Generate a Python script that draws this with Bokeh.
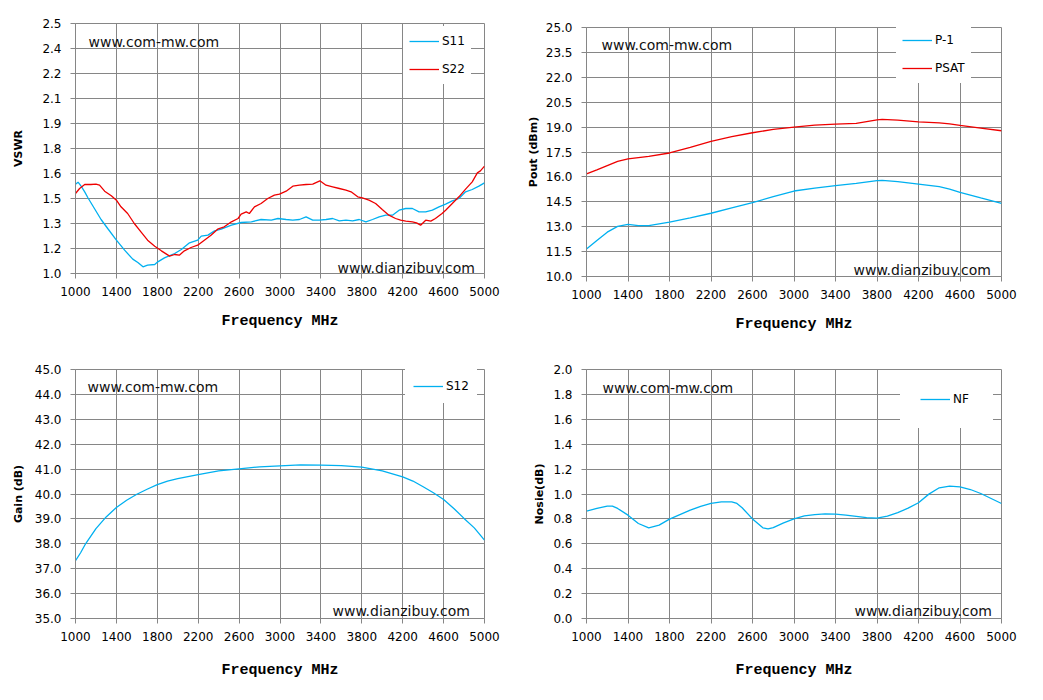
from bokeh.plotting import figure
from bokeh.models import Range1d, FixedTicker, PrintfTickFormatter, Label, Legend, LegendItem
from bokeh.layouts import column, row
from bokeh.embed import file_html
from bokeh.resources import INLINE

# ---------------- data ----------------
freq_ticks = [1000, 1400, 1800, 2200, 2600, 3000, 3400, 3800, 4200, 4600, 5000]

# VSWR chart
s11_freq = [1000, 1025, 1055, 1090, 1120, 1185, 1250, 1315, 1400, 1480, 1560, 1610, 1660,
            1705, 1775, 1805, 1870, 1970, 2035, 2115, 2195, 2230, 2295, 2360, 2425, 2525,
            2620, 2720, 2815, 2915, 2980, 3060, 3125, 3190, 3255, 3320, 3385, 3450, 3515,
            3580, 3645, 3710, 3775, 3840, 3905, 3970, 4035, 4100, 4165, 4230, 4295, 4360,
            4425, 4490, 4555, 4620, 4685, 4750, 4815, 4880, 4945, 5000]
s11_vswr = [1.536, 1.548, 1.524, 1.49, 1.456, 1.39, 1.324, 1.27, 1.20, 1.14, 1.086, 1.066, 1.04,
            1.05, 1.054, 1.07, 1.094, 1.12, 1.144, 1.184, 1.20, 1.224, 1.23, 1.256, 1.266, 1.29,
            1.306, 1.31, 1.324, 1.32, 1.33, 1.324, 1.32, 1.324, 1.34, 1.32, 1.32, 1.324, 1.33,
            1.316, 1.32, 1.316, 1.324, 1.31, 1.324, 1.34, 1.35, 1.35, 1.38, 1.39, 1.39, 1.37,
            1.37, 1.38, 1.40, 1.416, 1.436, 1.45, 1.49, 1.504, 1.524, 1.544]
s22_freq = [1000, 1040, 1090, 1150, 1200, 1235, 1285, 1350, 1400, 1445, 1510, 1575, 1640,
            1705, 1775, 1840, 1920, 1970, 2015, 2065, 2130, 2195, 2260, 2325, 2390, 2455,
            2525, 2590, 2620, 2670, 2700, 2750, 2815, 2880, 2945, 2995, 3060, 3125, 3190,
            3255, 3320, 3390, 3450, 3515, 3580, 3645, 3695, 3760, 3805, 3870, 3935, 4000,
            4065, 4130, 4180, 4230, 4295, 4335, 4375, 4425, 4475, 4520, 4585, 4620, 4685,
            4750, 4815, 4880, 4930, 4960, 5000]
s22_vswr = [1.48, 1.51, 1.534, 1.534, 1.536, 1.53, 1.494, 1.466, 1.44, 1.40, 1.36, 1.30, 1.25,
            1.20, 1.164, 1.136, 1.104, 1.114, 1.11, 1.136, 1.156, 1.17, 1.20, 1.23, 1.266, 1.28,
            1.31, 1.33, 1.356, 1.37, 1.36, 1.40, 1.42, 1.45, 1.47, 1.476, 1.494, 1.524, 1.53,
            1.534, 1.536, 1.556, 1.53, 1.52, 1.51, 1.50, 1.49, 1.46, 1.454, 1.44, 1.42, 1.384,
            1.35, 1.33, 1.32, 1.314, 1.31, 1.304, 1.29, 1.32, 1.314, 1.33, 1.36, 1.38, 1.42,
            1.46, 1.506, 1.55, 1.604, 1.616, 1.644]
vswr_ticks = [1.0, 1.15, 1.3, 1.45, 1.6, 1.75, 1.9, 2.05, 2.2, 2.35, 2.5]
vswr_tick_labels = ["1.0", "1.2", "1.3", "1.5", "1.6", "1.8", "1.9", "2.1", "2.2", "2.4", "2.5"]

# Pout chart
pout_freq = [1000, 1100, 1200, 1300, 1400, 1500, 1600, 1800, 2000, 2200, 2400, 2600, 2800,
             3000, 3200, 3400, 3600, 3800, 3850, 4000, 4200, 4400, 4500, 4600, 4800, 5000]
p1_dbm = [11.66, 12.17, 12.67, 13.02, 13.14, 13.07, 13.07, 13.27, 13.53, 13.81, 14.13, 14.45, 14.81,
          15.15, 15.33, 15.47, 15.61, 15.77, 15.79, 15.71, 15.57, 15.41, 15.27, 15.07, 14.73, 14.41]
psat_dbm = [16.18, 16.42, 16.68, 16.94, 17.08, 17.16, 17.24, 17.44, 17.78, 18.14, 18.42, 18.66, 18.86,
            19.00, 19.12, 19.18, 19.22, 19.44, 19.46, 19.42, 19.32, 19.26, 19.20, 19.10, 18.94, 18.78]
pout_ticks = [10.0, 11.5, 13.0, 14.5, 16.0, 17.5, 19.0, 20.5, 22.0, 23.5, 25.0]

# Gain chart
gain_freq = [1000, 1050, 1100, 1200, 1300, 1400, 1500, 1600, 1700, 1800, 1900, 2000, 2200, 2400,
             2600, 2800, 3000, 3200, 3400, 3600, 3800, 4000, 4200, 4300, 4400, 4500, 4600, 4700,
             4800, 4900, 5000]
s12_gain = [37.32, 37.64, 38.01, 38.61, 39.08, 39.46, 39.75, 39.99, 40.19, 40.38, 40.52, 40.62,
            40.78, 40.93, 41.01, 41.09, 41.13, 41.17, 41.16, 41.14, 41.08, 40.93, 40.69, 40.52,
            40.29, 40.05, 39.78, 39.42, 39.02, 38.64, 38.15]
gain_ticks = [35.0, 36.0, 37.0, 38.0, 39.0, 40.0, 41.0, 42.0, 43.0, 44.0, 45.0]

# Noise figure chart
nf_freq = [1000, 1100, 1200, 1250, 1300, 1400, 1500, 1600, 1700, 1800, 1900, 2000, 2100, 2200,
           2300, 2400, 2450, 2500, 2600, 2700, 2750, 2800, 2900, 3000, 3100, 3200, 3300, 3400,
           3500, 3600, 3700, 3800, 3900, 4000, 4100, 4200, 4300, 4400, 4500, 4600, 4700, 4800,
           4900, 5000]
nf_db = [0.862, 0.884, 0.902, 0.902, 0.884, 0.83, 0.763, 0.728, 0.75, 0.798, 0.835, 0.87, 0.90,
         0.924, 0.937, 0.937, 0.924, 0.89, 0.80, 0.728, 0.72, 0.73, 0.768, 0.80, 0.825, 0.835,
         0.84, 0.838, 0.83, 0.82, 0.81, 0.806, 0.822, 0.851, 0.886, 0.93, 0.999, 1.05, 1.063,
         1.058, 1.036, 1.004, 0.964, 0.924]
nf_ticks = [0.0, 0.2, 0.4, 0.6, 0.8, 1.0, 1.2, 1.4, 1.6, 1.8, 2.0]

BLUE = "#00B0F0"
RED = "#EE0000"
GRID = "#868686"


def make_fig(width, height, left, right, top, bottom, y_ticks, y_label, ylab_standoff, xlab_standoff):
    p = figure(width=width, height=height, output_backend="svg", toolbar_location=None,
               x_range=Range1d(1000, 5000), y_range=Range1d(y_ticks[0], y_ticks[-1]),
               min_border_left=left, min_border_right=right,
               min_border_top=top, min_border_bottom=bottom)
    p.outline_line_color = GRID
    p.outline_line_width = 1
    p.xaxis.ticker = FixedTicker(ticks=freq_ticks)
    p.yaxis.ticker = FixedTicker(ticks=y_ticks)
    for ax in (p.xaxis[0], p.yaxis[0]):
        ax.axis_line_color = GRID
        ax.major_tick_line_color = GRID
        ax.major_tick_out = 5
        ax.major_tick_in = 0
        ax.minor_tick_line_color = None
        ax.major_label_text_font = "DejaVu Sans"
        ax.major_label_text_font_size = "12px"
        ax.major_label_text_color = "#000000"
    p.xaxis.major_label_standoff = 8
    p.yaxis.major_label_standoff = 9
    p.xaxis.axis_label = "Frequency MHz"
    p.xaxis.axis_label_text_font = "Liberation Mono"
    p.xaxis.axis_label_text_font_style = "bold"
    p.xaxis.axis_label_text_font_size = "15px"
    p.xaxis.axis_label_text_color = "#000000"
    p.xaxis.axis_label_standoff = xlab_standoff
    p.yaxis.axis_label = y_label
    p.yaxis.axis_label_text_font = "DejaVu Sans"
    p.yaxis.axis_label_text_font_style = "bold"
    p.yaxis.axis_label_text_font_size = "11px"
    p.yaxis.axis_label_text_color = "#000000"
    p.yaxis.axis_label_standoff = ylab_standoff
    p.grid.grid_line_color = GRID
    p.grid.grid_line_width = 1
    p.background_fill_color = "white"
    p.border_fill_color = "white"
    return p


def add_watermarks(p, x1, y1, x2, y2):
    for x, y, t in ((x1, y1, "www.com-mw.com"), (x2, y2, "www.dianzibuy.com")):
        p.add_layout(Label(x=x, y=y, x_units="screen", y_units="screen", text=t,
                           text_font="DejaVu Sans", text_font_size="14px",
                           text_color="#111111", text_baseline="alphabetic"))


def add_legend(p, items, loc, padding, spacing):
    lg = Legend(items=items, location=loc, padding=padding, spacing=spacing, margin=0,
                glyph_width=30, glyph_height=18, label_height=18, label_standoff=3,
                label_text_font="DejaVu Sans", label_text_font_size="12px",
                label_text_color="#000000", border_line_alpha=0,
                background_fill_color="white", background_fill_alpha=1.0)
    p.add_layout(lg)


# --- VSWR ---
p1 = make_fig(510, 348, 75, 26, 23, 75, vswr_ticks, "VSWR", 14, 14)
p1.yaxis.major_label_overrides = dict(zip(vswr_ticks, vswr_tick_labels))
r11 = p1.line(s11_freq, s11_vswr, line_color=BLUE, line_width=1.3)
r22 = p1.line(s22_freq, s22_vswr, line_color=RED, line_width=1.3)
add_legend(p1, [LegendItem(label="S11", renderers=[r11]), LegendItem(label="S22", renderers=[r22])],
           (328, 189), 6, 10)
add_watermarks(p1, 13, 232, 262, 6)

# --- Pout ---
p2 = make_fig(520, 348, 76, 27, 27, 72, pout_ticks, "Pout (dBm)", 3, 14)
p2.yaxis.formatter = PrintfTickFormatter(format="%.1f")
rp1 = p2.line(pout_freq, p1_dbm, line_color=BLUE, line_width=1.3)
rps = p2.line(pout_freq, psat_dbm, line_color=RED, line_width=1.3)
add_legend(p2, [LegendItem(label="P-1", renderers=[rp1]), LegendItem(label="PSAT", renderers=[rps])],
           (310, 193), 6, 10)
add_watermarks(p2, 15, 232, 267, 7)

# --- Gain ---
p3 = make_fig(510, 340, 75, 26, 21, 70, gain_ticks, "Gain (dB)", 7, 18)
p3.yaxis.formatter = PrintfTickFormatter(format="%.1f")
rg = p3.line(gain_freq, s12_gain, line_color=BLUE, line_width=1.3)
add_legend(p3, [LegendItem(label="S12", renderers=[rg])], (330, 215), 8, 10)
add_watermarks(p3, 12, 232, 257, 8)

# --- Noise ---
p4 = make_fig(520, 340, 75, 29, 21, 70, nf_ticks, "Nosie(dB)", 4, 18)
p4.yaxis.formatter = PrintfTickFormatter(format="%.1f")
rn = p4.line(nf_freq, nf_db, line_color=BLUE, line_width=1.3)
add_legend(p4, [LegendItem(label="NF", renderers=[rn])], (314, 190), 20, 10)
add_watermarks(p4, 16, 231, 268, 8)

layout = row(column(p1, p3), column(p2, p4))

with open("out.html", "w") as f:
    f.write(file_html(layout, INLINE))
